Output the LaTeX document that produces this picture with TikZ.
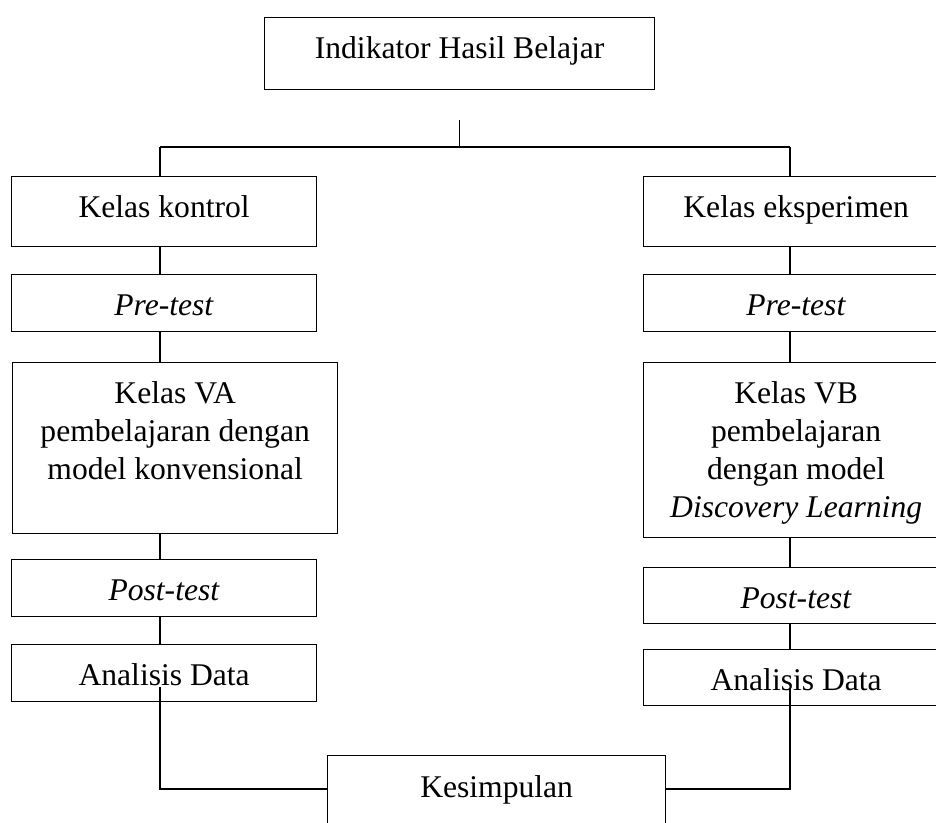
\documentclass[tikz,border=0pt]{standalone}
\usepackage{fontspec}
\setmainfont{Liberation Serif}
\usepackage{tikz}
\usetikzlibrary{calc}

\tikzset{
  box/.style={draw,anchor=north west,inner sep=0pt,align=center,
    font=\fontsize{31.6}{38}\selectfont,minimum width=305pt,text height=41pt},
}

\begin{document}
\begin{tikzpicture}[x=1pt,y=-1pt,line width=1.3pt]

  \clip (0,0) rectangle (936,822);

  \node[box,minimum width=390pt,text depth=31pt] at (264,17) (ind) {Indikator Hasil Belajar};
  \coordinate (split) at ([yshift=-30pt]ind.south);
  \coordinate (colL) at (160,147);
  \coordinate (colR) at (790,147);

  % kelas kontrol
  \node[box,text depth=29pt] at (11,176) (kontrol) {Kelas kontrol};
  \node[box,text depth=16pt] at (11,274) (pre1) {\textit{Pre-test}};
  % multi-line: text height counts to the last baseline
  \node[box,minimum width=325pt,text height=117pt,text depth=54pt] at (12,362) (va)
    {Kelas VA\\pembelajaran dengan\\model konvensional};
  \node[box,text depth=16pt] at (11,559) (post1) {\textit{Post-test}};
  \node[box,text depth=16pt] at (11,644) (ana1) {Analisis Data};

  % kelas eksperimen
  \node[box,text depth=29pt] at (643,176) (eksp) {Kelas eksperimen};
  \node[box,text depth=16pt] at (643,274) (pre2) {\textit{Pre-test}};
  \node[box,text height=155pt,text depth=20pt] at (643,362) (vb)
    {Kelas VB\\pembelajaran\\dengan model\\\textit{Discovery Learning}};
  \node[box,text depth=15pt] at (643,567) (post2) {\textit{Post-test}};
  \node[box,text depth=15pt] at (643,649) (ana2) {Analisis Data};

  \node[box,minimum width=338pt,text height=42pt,text depth=40pt] at (327,755) (kes) {Kesimpulan};

  \draw (split) -- (split |- colL);
  \draw (colL) -- (colR);
  \draw (colL) -- (colL |- kontrol.north);
  \draw (colR) -- (colR |- eksp.north);

  \draw (kontrol.south -| colL) -- (pre1.north -| colL);
  \draw (pre1.south -| colL) -- (va.north -| colL);
  \draw (va.south -| colL) -- (post1.north -| colL);
  \draw (post1.south -| colL) -- (ana1.north -| colL);

  \draw (eksp.south -| colR) -- (pre2.north -| colR);
  \draw (pre2.south -| colR) -- (vb.north -| colR);
  \draw (vb.south -| colR) -- (post2.north -| colR);
  \draw (post2.south -| colR) -- (ana2.north -| colR);

  % to kesimpulan
  \coordinate (outL) at (160,687);
  \coordinate (joinL) at (160,789);
  \coordinate (outR) at (790,688);
  \coordinate (joinR) at (790,789);
  \draw (outL) -- (joinL) -- (joinL -| kes.west);
  \draw (outR) -- (joinR) -- (joinR -| kes.east);

\end{tikzpicture}
\end{document}
